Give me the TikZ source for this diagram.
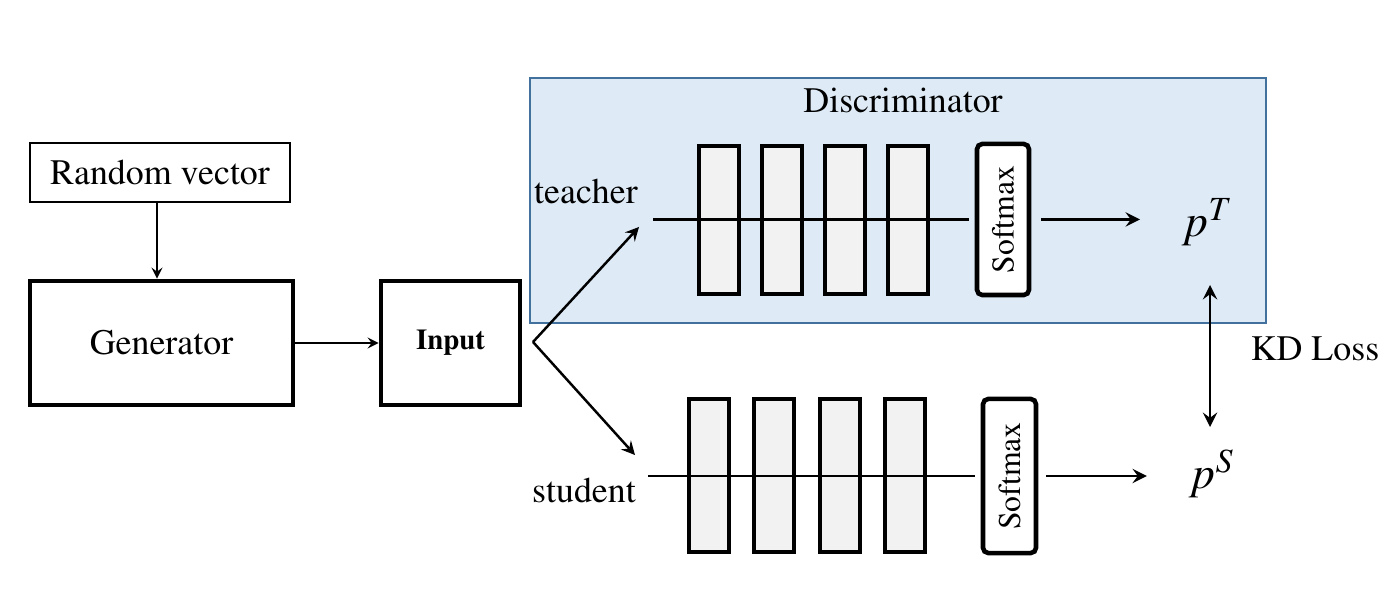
\documentclass[tikz,border=0pt]{standalone}
\usepackage[T1]{fontenc}
\usepackage{mathptmx}
\usepackage{graphicx}
\usetikzlibrary{calc}

\definecolor{discfill}{RGB}{222,235,247}
\definecolor{discline}{RGB}{65,113,156}
\definecolor{layerfill}{RGB}{242,242,242}

\tikzset{
	layer/.style={draw, fill=layerfill, line width=1.2pt, minimum width=0.40cm, inner sep=0pt},
	softbox/.style={draw, fill=white, line width=1.3pt, rounded corners=1.5pt, inner sep=0pt,
		font=\rmfamily\fontsize{9}{10}\selectfont},
	bigbox/.style={draw, line width=1.3pt, inner sep=0pt},
}

\begin{document}
\begin{tikzpicture}[x=0.01cm, y=-0.01cm, font=\rmfamily\fontsize{10.2}{12}\selectfont]
	\useasboundingbox (0,0) rectangle (1385,595);
	
	\coordinate (split) at (533,342);
	\coordinate (tarr) at (639,227);
	\coordinate (sarr) at (635,455);
	\coordinate (tin) at (653,219.5);
	\coordinate (sin) at (648,476);
	\coordinate (kdT) at (1210,285);
	\coordinate (kdB) at (1210,427);
	
	\begin{scope}
		\node [draw, line width=0.5pt, minimum width=2.60cm, minimum height=0.59cm, inner sep=0pt] (rnd) at (160,172.5) {Random vector};
		\node [bigbox, minimum width=2.63cm, minimum height=1.24cm] (gen) at (161.5,343) {Generator};
		\node [bigbox, minimum width=1.39cm, minimum height=1.24cm, font=\rmfamily\fontsize{8.2}{10}\selectfont\bfseries] (input) at (450.5,343) {Input};
		
		\node [draw=discline, fill=discfill, line width=0.6pt, minimum width=7.36cm, minimum height=2.45cm] (disc) at (898,200.5) {};
		\node (disclabel) at (903,101) {Discriminator};
	\end{scope}
	
	\begin{scope}
		\foreach \i/\x in {1/719,2/782,3/845,4/908}
			\node [layer, minimum height=1.48cm] (t\i) at (\x,220) {};
		\node [softbox, minimum width=0.52cm, minimum height=1.51cm] (tsm) at (1003,219.5) {\rotatebox{90}{Softmax}};
		
		\foreach \i/\x in {1/709,2/774,3/840,4/905}
			\node [layer, minimum height=1.53cm] (s\i) at (\x,475.5) {};
		\node [softbox, minimum width=0.53cm, minimum height=1.54cm] (ssm) at (1009.5,476) {\rotatebox{90}{Softmax}};
		
		\node (teacher) at (586,192) {teacher};
		\node (student) at (584,491) {student};
		\node [font=\fontsize{13}{14}\selectfont] (pT) at (1208,222) {$p^T$};
		\node [font=\fontsize{13}{14}\selectfont] (pS) at (1212,474) {$p^S$};
		\node (kd) at (1315,349) {KD Loss};
	\end{scope}
	
	\begin{scope}[line width=0.8pt]
		\draw [shorten >=0.06cm] (tin) -- (tin -| tsm.west);
		\draw [shorten >=0.06cm] (sin) -- (sin -| ssm.west);
	\end{scope}
	
	\begin{scope}[-stealth]
		\draw [line width=0.4pt] (rnd.south -| 157,0) -- (gen.north -| 157,0);
		\draw [line width=0.4pt] (gen.east) -- (input.west);
		\draw [line width=0.7pt] (split) -- (tarr);
		\draw [line width=0.7pt] (split) -- (sarr);
		\draw [line width=0.8pt, shorten <=0.10cm, shorten >=0.30cm] (tsm.east) -- (tsm.east -| pT.west);
		\draw [line width=0.8pt, shorten <=0.08cm, shorten >=0.30cm] (ssm.east) -- (ssm.east -| pS.west);
		\draw [line width=0.8pt, stealth-stealth] (kdT) -- (kdB);
	\end{scope}
\end{tikzpicture}
\end{document}
